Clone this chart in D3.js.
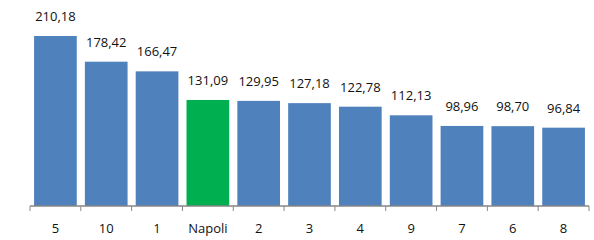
<!DOCTYPE html>
<html>
<head>
<meta charset="utf-8">
<script src="https://cdn.jsdelivr.net/npm/d3@7"></script>
<style>
  body { margin: 0; background: #fff; }
  svg { display: block; font-family: "Open Sans", "DejaVu Sans", sans-serif; }
</style>
</head>
<body>
<svg width="594" height="240"></svg>
<script>
// data
const categories = ["5", "10", "1", "Napoli", "2", "3", "4", "9", "7", "6", "8"]
const values = [210.18, 178.42, 166.47, 131.09, 129.95, 127.18, 122.78, 112.13, 98.96, 98.70, 96.84]
const highlight = "Napoli"

const svg = d3.select("svg")
const baseY = 206

const x = d3.scaleBand()
    .domain(categories)
    .range([30, 589])
    .paddingInner(0.16)
    .paddingOuter(0.08)

const y = d3.scaleLinear()
    .domain([0, 210.18])
    .range([baseY, 36])

const data = categories.map((c, i) => ({cat: c, val: values[i]}))

svg.selectAll("rect.bar")
    .data(data).enter()
    .append("rect")
    .attr("class", "bar")
    .attr("x", d => x(d.cat))
    .attr("y", d => y(d.val))
    .attr("width", x.bandwidth())
    .attr("height", d => baseY - y(d.val))
    .attr("fill", d => d.cat == highlight ? "#00b050" : "#4f81bd")

// value labels, comma decimal
svg.selectAll("text.val")
    .data(data).enter()
    .append("text")
    .attr("class", "val")
    .attr("x", d => x(d.cat) + x.bandwidth() / 2)
    .attr("y", d => y(d.val) - 15)
    .attr("text-anchor", "middle")
    .attr("font-size", 13)
    .attr("fill", "#111")
    .text(d => d.val.toFixed(2).replace(".", ","))

// x axis with ticks between categories
const axis = svg.append("g")
axis.append("line")
    .attr("x1", 30).attr("x2", 589)
    .attr("y1", baseY).attr("y2", baseY)
    .attr("stroke", "#868686")
    .attr("stroke-width", 1.5)

const step = x.step()
const tickXs = d3.range(categories.length + 1).map(i => 30 + i * (559 / categories.length))
axis.selectAll("line.tick")
    .data(tickXs).enter()
    .append("line")
    .attr("class", "tick")
    .attr("x1", d => d).attr("x2", d => d)
    .attr("y1", baseY).attr("y2", baseY + 5)
    .attr("stroke", "#868686")
    .attr("stroke-width", 1)

axis.selectAll("text.cat")
    .data(categories).enter()
    .append("text")
    .attr("class", "cat")
    .attr("x", d => x(d) + x.bandwidth() / 2)
    .attr("y", 233)
    .attr("text-anchor", "middle")
    .attr("font-size", 13)
    .attr("fill", "#111")
    .text(d => d)
</script>
</body>
</html>
